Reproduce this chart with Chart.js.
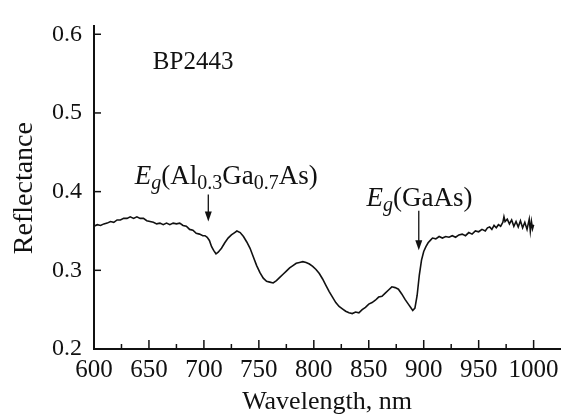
<!DOCTYPE html>
<html lang="en">
<head>
    <meta charset="UTF-8">
    <script src="https://cdn.jsdelivr.net/npm/chart.js"></script>
    <title>Reflectance BP2443</title>
    <style>
        body {
            margin: 0;
            background: #fff;
        }
    </style>
</head>

<body>
    <canvas id="reflChart" width="569" height="419"></canvas>

    <script>
        const wavelength = [
            600, 603, 606, 609, 612, 615, 618, 621, 624, 627, 630, 633, 636, 639, 642, 645, 648, 651, 654, 657,
            660, 663, 666, 669, 672, 675, 678, 681, 684, 687, 690, 693, 696, 699, 701, 703, 705, 707, 709, 711,
            713, 716, 719, 722, 725, 728, 730, 733, 736, 739, 742, 745, 748, 751, 754, 757, 760, 763, 766, 769,
            772, 775, 778, 781, 784, 787, 790, 793, 796, 799, 802, 805, 808, 811, 814, 817, 820, 823, 826, 829,
            832, 835, 838, 841, 844, 847, 850, 853, 856, 859, 862, 865, 868, 871, 874, 877, 880, 883, 886, 888,
            890, 892, 894, 896, 898, 900, 902, 904, 906, 908, 911, 914, 917, 920, 923, 926, 929, 932, 935, 938,
            941, 944, 947, 950, 953, 956, 958, 960, 962, 964, 966, 968, 970, 972, 973, 974, 976, 978, 980, 982,
            984, 986, 988, 990, 992, 994, 996, 997, 998, 999, 1000
        ];
        const reflectance = [
            0.356, 0.358, 0.357, 0.359, 0.360, 0.362, 0.361, 0.364, 0.364, 0.366, 0.366, 0.368, 0.366, 0.368, 0.366, 0.366, 0.363, 0.362, 0.361, 0.359,
            0.360, 0.358, 0.360, 0.358, 0.360, 0.359, 0.360, 0.357, 0.356, 0.352, 0.351, 0.347, 0.346, 0.344, 0.344, 0.342, 0.338, 0.330, 0.325, 0.321,
            0.323, 0.328, 0.335, 0.341, 0.345, 0.348, 0.350, 0.348, 0.343, 0.336, 0.328, 0.317, 0.306, 0.297, 0.290, 0.286, 0.285, 0.284, 0.287, 0.291,
            0.295, 0.299, 0.303, 0.306, 0.309, 0.310, 0.311, 0.310, 0.308, 0.305, 0.301, 0.296, 0.289, 0.281, 0.273, 0.266, 0.259, 0.254, 0.251, 0.248,
            0.246, 0.245, 0.247, 0.246, 0.250, 0.253, 0.257, 0.259, 0.262, 0.266, 0.267, 0.271, 0.275, 0.279, 0.278, 0.276, 0.270, 0.263, 0.257, 0.253,
            0.249, 0.252, 0.268, 0.294, 0.313, 0.324, 0.330, 0.335, 0.338, 0.341, 0.340, 0.343, 0.341, 0.343, 0.342, 0.344, 0.342, 0.345, 0.346, 0.344,
            0.348, 0.346, 0.350, 0.349, 0.352, 0.350, 0.354, 0.355, 0.352, 0.357, 0.354, 0.358, 0.356, 0.361, 0.368, 0.362, 0.365, 0.359, 0.364, 0.356,
            0.362, 0.355, 0.363, 0.354, 0.361, 0.352, 0.365, 0.350, 0.362, 0.353, 0.358
        ];
        const xTicks = [600, 650, 700, 750, 800, 850, 900, 950, 1000];
        const yTicks = [0.2, 0.3, 0.4, 0.5, 0.6];

        const serif = '"Liberation Serif", "Times New Roman", serif';

        // text and arrows, anchored in data units
        const notes = {
            sample: { x: 653.5, y: 0.556 },
            alGaAs: { x: 637, y: 0.410 },
            gaAs: { x: 848, y: 0.382 },
            arrow1: { x: 704, from: 0.3963, to: 0.3622 },
            arrow2: { x: 895.5, from: 0.3756, to: 0.3256 },
            yTitle: { x: 25, y: 0.4045 }
        };

        function drawPieces(ctx, x, y, pieces) {
            for (const p of pieces) {
                ctx.font = (p.italic ? 'italic ' : '') + p.size + 'px ' + serif;
                ctx.fillText(p.t, x, y + (p.dy || 0));
                x += ctx.measureText(p.t).width;
            }
        }

        function drawArrow(ctx, x, y1, y2) {
            ctx.beginPath();
            ctx.moveTo(x, y1);
            ctx.lineTo(x, y2 - 8);
            ctx.stroke();
            ctx.beginPath();
            ctx.moveTo(x - 3.5, y2 - 10);
            ctx.lineTo(x + 3.5, y2 - 10);
            ctx.lineTo(x, y2);
            ctx.closePath();
            ctx.fill();
        }

        const extras = {
            id: 'extras',
            afterDraw(chart) {
                const ctx = chart.ctx;
                const xs = chart.scales.x, ys = chart.scales.y;
                const bottom = chart.chartArea.bottom, left = chart.chartArea.left;
                ctx.save();
                ctx.strokeStyle = '#111';
                ctx.fillStyle = '#111';
                ctx.lineWidth = 1.5;

                // inward ticks
                for (let v = 600; v <= 1000; v += 25) {
                    const px = xs.getPixelForValue(v);
                    const len = v % 50 === 0 ? 9 : 5;
                    ctx.beginPath();
                    ctx.moveTo(px, bottom);
                    ctx.lineTo(px, bottom - len);
                    ctx.stroke();
                }
                for (const v of yTicks) {
                    const py = ys.getPixelForValue(v);
                    ctx.beginPath();
                    ctx.moveTo(left, py);
                    ctx.lineTo(left + 7, py);
                    ctx.stroke();
                }

                // y axis title
                ctx.save();
                ctx.translate(notes.yTitle.x, ys.getPixelForValue(notes.yTitle.y));
                ctx.rotate(-Math.PI / 2);
                ctx.textAlign = 'center';
                ctx.textBaseline = 'middle';
                ctx.font = '28px ' + serif;
                ctx.fillText('Reflectance', 0, 0);
                ctx.restore();

                ctx.textBaseline = 'alphabetic';
                ctx.textAlign = 'left';
                drawPieces(ctx, xs.getPixelForValue(notes.sample.x), ys.getPixelForValue(notes.sample.y),
                    [{ t: 'BP2443', size: 25 }]);
                drawPieces(ctx, xs.getPixelForValue(notes.alGaAs.x), ys.getPixelForValue(notes.alGaAs.y), [
                    { t: 'E', size: 27, italic: true },
                    { t: 'g', size: 20, italic: true, dy: 5 },
                    { t: '(Al', size: 27 },
                    { t: '0.3', size: 20, dy: 5 },
                    { t: 'Ga', size: 27 },
                    { t: '0.7', size: 20, dy: 5 },
                    { t: 'As)', size: 27 }
                ]);
                drawPieces(ctx, xs.getPixelForValue(notes.gaAs.x), ys.getPixelForValue(notes.gaAs.y), [
                    { t: 'E', size: 27, italic: true },
                    { t: 'g', size: 20, italic: true, dy: 5 },
                    { t: '(GaAs)', size: 27 }
                ]);

                ctx.lineWidth = 1.3;
                for (const a of [notes.arrow1, notes.arrow2]) {
                    drawArrow(ctx, xs.getPixelForValue(a.x), ys.getPixelForValue(a.from), ys.getPixelForValue(a.to));
                }
                ctx.restore();
            }
        };

        const points = wavelength.map((w, i) => ({ x: w, y: reflectance[i] }));

        new Chart(document.getElementById('reflChart'), {
            type: 'line',
            data: {
                datasets: [{
                    data: points,
                    borderColor: '#111',
                    borderWidth: 1.6,
                    pointRadius: 0,
                    tension: 0
                }]
            },
            options: {
                responsive: false,
                animation: false,
                layout: { padding: { top: 14, right: 9, left: 0, bottom: 0 } },
                plugins: {
                    legend: { display: false },
                    tooltip: { enabled: false }
                },
                scales: {
                    x: {
                        type: 'linear',
                        min: 600,
                        max: 1024,
                        afterFit: s => { s.height = 70; },
                        afterBuildTicks: s => { s.ticks = xTicks.map(v => ({ value: v })); },
                        grid: { display: false, drawTicks: false },
                        border: { display: true, color: '#111', width: 2 },
                        ticks: {
                            padding: 6,
                            maxRotation: 0,
                            autoSkip: false,
                            color: '#111',
                            font: { family: serif, size: 25 },
                            callback: v => String(v)
                        },
                        title: {
                            display: true,
                            text: 'Wavelength, nm',
                            color: '#111',
                            padding: { top: 0, bottom: 1 },
                            font: { family: serif, size: 26 }
                        }
                    },
                    y: {
                        min: 0.2,
                        max: 0.61,
                        afterFit: s => { s.width = 94; },
                        afterBuildTicks: s => { s.ticks = yTicks.map(v => ({ value: v })); },
                        grid: { display: false, drawTicks: false },
                        border: { display: true, color: '#111', width: 2 },
                        ticks: {
                            padding: 12,
                            color: '#111',
                            font: { family: serif, size: 24 },
                            callback: v => v.toFixed(1)
                        }
                    }
                }
            },
            plugins: [extras]
        });
    </script>
</body>

</html>
